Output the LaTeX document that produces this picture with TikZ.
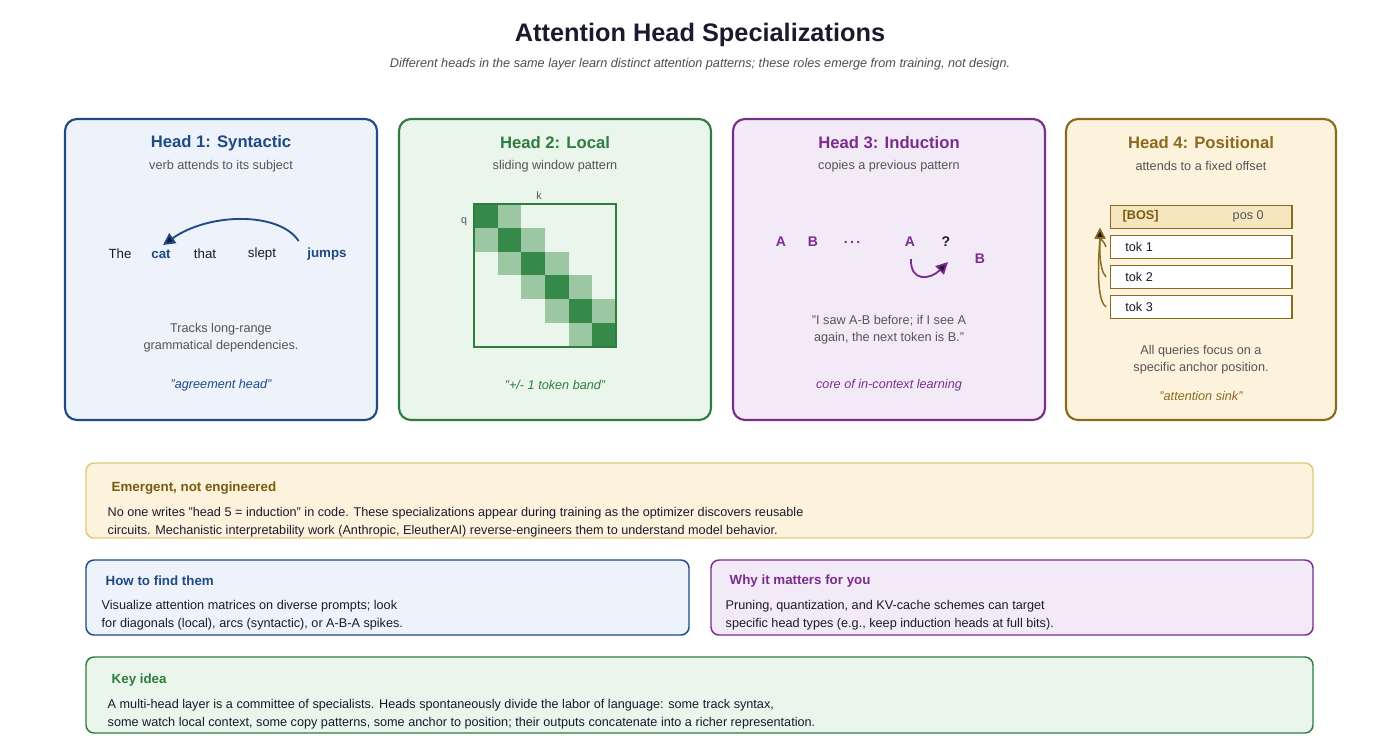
\documentclass[tikz,border=0pt]{standalone}
\usepackage{fontspec}
\setmainfont{Liberation Sans}
\usetikzlibrary{arrows.meta}
\definecolor{ink}{HTML}{1A1A2E}
\definecolor{gtxt}{HTML}{555555}
\definecolor{cB}{HTML}{1F4A85}\definecolor{fB}{HTML}{EEF3FB}
\definecolor{cG}{HTML}{2E7D3E}\definecolor{fG}{HTML}{EAF5EC}\definecolor{lG}{HTML}{9BC8A3}\definecolor{dG}{HTML}{358A4A}
\definecolor{cP}{HTML}{7B2D8E}\definecolor{fP}{HTML}{F3EAF7}
\definecolor{cY}{HTML}{8A6A1E}\definecolor{fY}{HTML}{FDF3DD}\definecolor{bY}{HTML}{E3C77A}\definecolor{tY}{HTML}{7A5A10}
\begin{document}
\begin{tikzpicture}[x=0.75pt,y=-0.75pt,
  panel/.style={draw=#1,line width=1.6pt,rounded corners=9pt},
  ptitle/.style={font=\fontsize{12.5}{14}\selectfont\bfseries,text=#1},
  sub/.style={font=\fontsize{9.5}{11}\selectfont,text=gtxt},
  body/.style={font=\fontsize{9.5}{13}\selectfont,text=gtxt,align=center},
  note/.style={font=\fontsize{9.5}{11}\selectfont\itshape,text=#1},
  word/.style={font=\fontsize{10}{12}\selectfont,text=ink},
  btitle/.style={font=\fontsize{10}{12}\selectfont\bfseries,text=#1,anchor=west},
  btext/.style={font=\fontsize{9.5}{13}\selectfont,text=ink,anchor=north west,align=left},
  tok/.style={draw=cY,line width=0.9pt,minimum width=136pt,minimum height=17pt,anchor=north west,inner sep=0pt}]
\useasboundingbox (0,0) rectangle (1400,754);
\node[font=\fontsize{19}{22}\selectfont\bfseries,text=ink] (title) at (700,35) {Attention Head Specializations};
\node[font=\fontsize{9.5}{11}\selectfont\itshape,text=gtxt!90!black] (subtitle) at (700,64) {Different heads in the same layer learn distinct attention patterns; these roles emerge from training, not design.};
% panels
\draw[panel=cB,fill=fB] (65,119) rectangle (377,420);
\draw[panel=cG,fill=fG] (399,119) rectangle (711,420);
\draw[panel=cP,fill=fP] (733,119) rectangle (1045,420);
\draw[panel=cY,fill=fY] (1066,119) rectangle (1336,420);
% Head 1
\node[ptitle=cB] (h1) at (221,143) {Head 1: Syntactic};
\node[sub] (h1s) at (221,166) {verb attends to its subject};
\node[word] (w1) at (120,254) {The};
\node[word,text=cB,font=\fontsize{10}{12}\selectfont\bfseries] (w2) at (161,254) {cat};
\node[word] (w3) at (205,254) {that};
\node[word] (w4) at (262,254) {slept};
\node[word,text=cB,font=\fontsize{10}{12}\selectfont\bfseries] (w5) at (327,254) {jumps};
\draw[cB,line width=1.4pt,-{Triangle[length=9pt,width=9pt,fill=ink]}] (w5.north west) ++(-4,-2) .. controls (280,212) and (210,212) .. (163,245);
\node[body] (h1b) at (221,338) {Tracks long-range\\grammatical dependencies.};
\node[note=cB] (h1n) at (221,385) {"agreement head"};
% Head 2
\node[ptitle=cG] (h2) at (555,143) {Head 2: Local};
\node[sub] (h2s) at (555,166) {sliding window pattern};
\foreach \i in {0,...,5}{
  \fill[dG] (474+23.67*\i,204+23.83*\i) rectangle ++(23.67,23.83);
  \ifnum\i<5
  \fill[lG] (474+23.67*\i+23.67,204+23.83*\i) rectangle ++(23.67,23.83);
  \fill[lG] (474+23.67*\i,204+23.83*\i+23.83) rectangle ++(23.67,23.83);
  \fi}
\draw[cG,line width=0.9pt] (474,204) rectangle (616,347);
\node[sub,font=\fontsize{8}{9}\selectfont] (k) at (539,196) {k};
\node[sub,font=\fontsize{8}{9}\selectfont] (q) at (464,222) {q};
\node[note=cG] (h2n) at (555,385) {"+/- 1 token band"};
% Head 3
\node[ptitle=cP] (h3) at (889,143) {Head 3: Induction};
\node[sub] (h3s) at (889,166) {copies a previous pattern};
\foreach \x/\t/\n in {781/A/a1,813/B/b1,852/.\,.\,./dots,910/A/a2}
  \node[font=\fontsize{10.5}{12}\selectfont\bfseries,text=cP] (\n) at (\x,242) {\t};
\node[font=\fontsize{10.5}{12}\selectfont\bfseries,text=ink] (qm) at (946,242) {?};
\node[font=\fontsize{10.5}{12}\selectfont\bfseries,text=cP] (b2) at (980,259) {B};
\draw[cP,line width=1.4pt,-{Triangle[length=9pt,width=9pt,fill=ink]}] (911,259) .. controls (910,282) and (930,280) .. (948,262);
\node[body] (h3b) at (889,330) {"I saw A-B before; if I see A\\again, the next token is B."};
\node[note=cP] (h3n) at (889,385) {core of in-context learning};
% Head 4
\node[ptitle=cY] (h4) at (1201,143) {Head 4: Positional};
\node[sub] (h4s) at (1201,166) {attends to a fixed offset};
\node[tok,fill=fY!70!bY] (bos) at (1110,205) {};
\node[font=\fontsize{9.5}{11}\selectfont\bfseries,text=tY,anchor=west] (bost) at (1118,216) {[BOS]};
\node[font=\fontsize{9.5}{11}\selectfont,text=gtxt,anchor=west] (pos) at (1228,216) {pos 0};
\node[tok,fill=white] (t1) at (1110,235) {};
\node[tok,fill=white] (t2) at (1110,265) {};
\node[tok,fill=white] (t3) at (1110,295) {};
\foreach \n/\t in {t1/tok 1,t2/tok 2,t3/tok 3}
  \node[font=\fontsize{9.5}{11}\selectfont,text=ink,anchor=west] at ([xshift=8pt]\n.west) {\t};
\coordinate (tip) at (1100,228);
\foreach \n/\c in {t1/3,t2/8,t3/12}
  \draw[cY,line width=1.1pt,-{Triangle[length=8pt,width=8pt,fill=ink]}] ([xshift=-3pt]\n.west) .. controls +(-\c,-8) and +(0,12) .. (tip);
\node[body] (h4b) at (1201,360) {All queries focus on a\\specific anchor position.};
\node[note=cY] (h4n) at (1201,396) {"attention sink"};
% Bottom boxes
\draw[draw=bY,line width=1.1pt,fill=fY,rounded corners=6pt] (86,463) rectangle (1313,538);
\node[btitle=tY] (e1) at (107,488) {Emergent, not engineered};
\node[btext] (e2) at (103,503) {No one writes "head 5 = induction" in code. These specializations appear during training as the optimizer discovers reusable\\circuits. Mechanistic interpretability work (Anthropic, EleutherAI) reverse-engineers them to understand model behavior.};
\draw[draw=cB,line width=1.1pt,fill=fB,rounded corners=6pt] (86,560) rectangle (689,635);
\node[btitle=cB] (f1) at (101,581) {How to find them};
\node[btext] (f2) at (97,596) {Visualize attention matrices on diverse prompts; look\\for diagonals (local), arcs (syntactic), or A-B-A spikes.};
\draw[draw=cP,line width=1.1pt,fill=fP,rounded corners=6pt] (711,560) rectangle (1313,635);
\node[btitle=cP] (m1) at (725,581) {Why it matters for you};
\node[btext] (m2) at (721,596) {Pruning, quantization, and KV-cache schemes can target\\specific head types (e.g., keep induction heads at full bits).};
\draw[draw=cG,line width=1.1pt,fill=fG,rounded corners=6pt] (86,657) rectangle (1313,733);
\node[btitle=cG] (k1) at (107,680) {Key idea};
\node[btext] (k2) at (103,695) {A multi-head layer is a committee of specialists. Heads spontaneously divide the labor of language: some track syntax,\\some watch local context, some copy patterns, some anchor to position; their outputs concatenate into a richer representation.};
\end{tikzpicture}
\end{document}
